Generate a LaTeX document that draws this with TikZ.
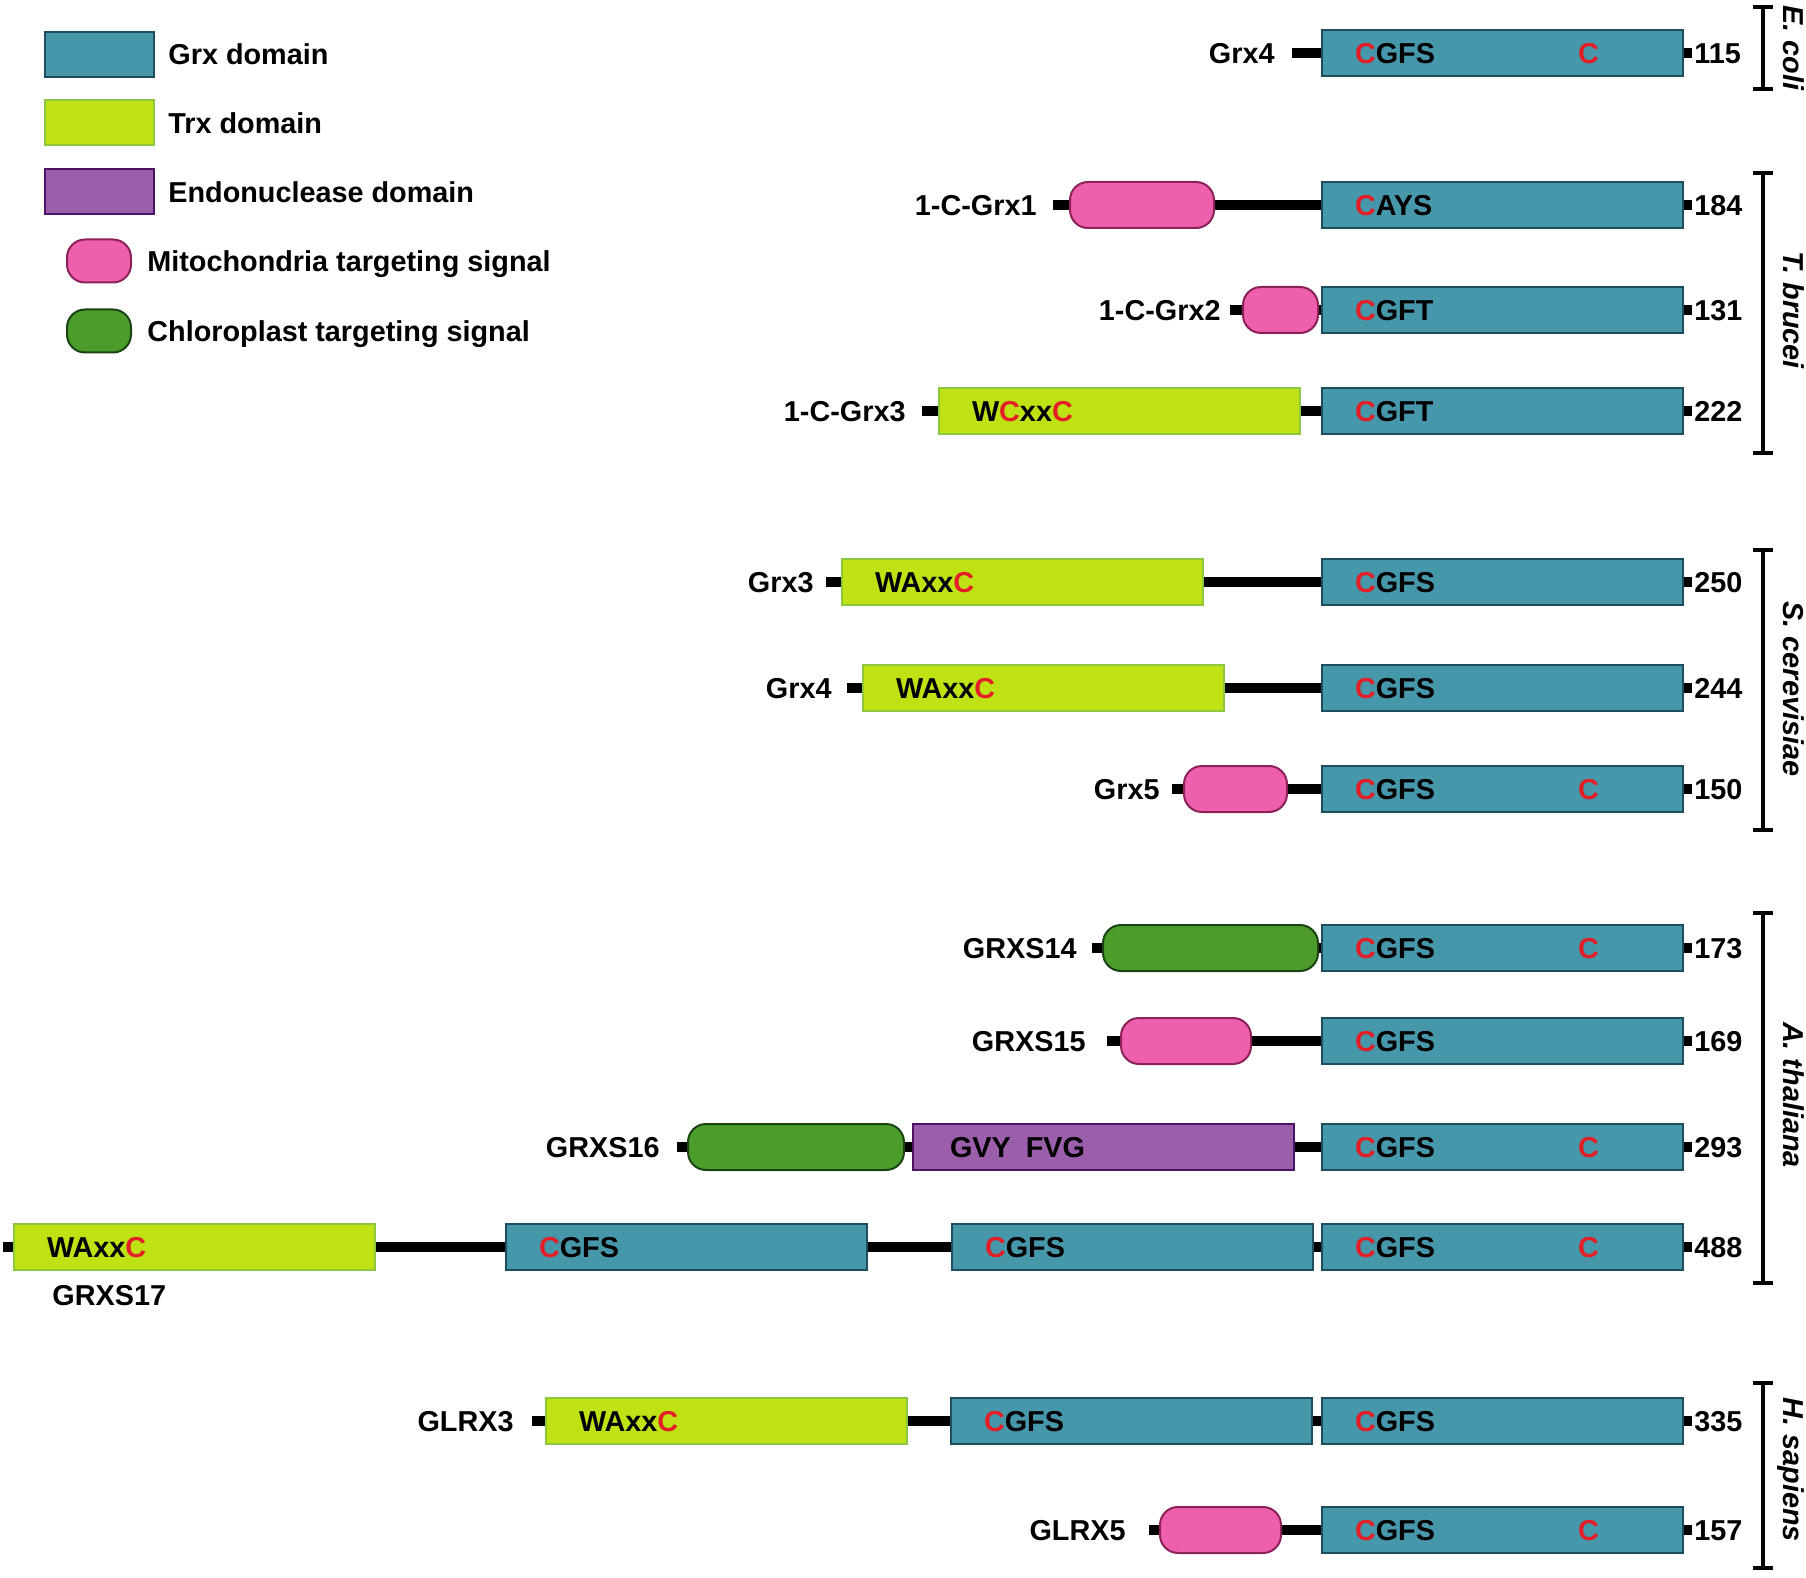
\documentclass[tikz,border=0pt]{standalone}
\usepackage{fontspec}
\setmainfont{Liberation Sans}
\usetikzlibrary{backgrounds}
\definecolor{grxf}{HTML}{4797AB}
\definecolor{grxb}{HTML}{1D4E5E}
\definecolor{trxf}{HTML}{BFE215}
\definecolor{trxb}{HTML}{8DC63F}
\definecolor{endof}{HTML}{9B5EAB}
\definecolor{endob}{HTML}{4B1467}
\definecolor{mitof}{HTML}{EE5FAD}
\definecolor{mitob}{HTML}{8C2257}
\definecolor{chlof}{HTML}{4C9C2C}
\definecolor{chlob}{HTML}{1A4513}
\definecolor{redc}{HTML}{E41E26}
\newcommand\dfont{\fontsize{14.4}{17}\selectfont\bfseries}
\newcommand\rc{\textcolor{redc}{C}}
\newcommand\cgfsc{\makebox[111.5pt][l]{\rc GFS}\rc}
\begin{document}
\begin{tikzpicture}[x=0.5pt,y=-0.5pt,
 dom/.style={draw, line width=1pt, minimum height=23pt, inner xsep=16.5pt, inner ysep=0pt, anchor=west, text width=147.5pt, align=left, text height=10.3pt, text depth=0pt, font=\dfont},
 grx/.style={dom, draw=grxb, fill=grxf},
 trx/.style={dom, draw=trxb, fill=trxf},
 endo/.style={dom, draw=endob, fill=endof, inner xsep=18.5pt, text width=153.5pt},
 pill/.style={draw, line width=1pt, rounded corners=9pt, minimum height=23pt, inner sep=0pt, anchor=west},
 mito/.style={pill, draw=mitob, fill=mitof},
 chlo/.style={pill, draw=chlob, fill=chlof},
 legbox/.style={draw, line width=1pt, minimum width=54.5pt, minimum height=22.5pt, inner sep=0pt, anchor=west},
 lnk/.style={line width=5pt},
 lbl/.style={font=\dfont, anchor=east, inner sep=0pt, text height=10.3pt, text depth=0pt},
 txt/.style={font=\dfont, anchor=west, inner sep=0pt, text height=10.3pt, text depth=0pt},
 brk/.style={line width=1.6pt},
 spec/.style={font=\fontsize{14.4}{17}\selectfont\bfseries\itshape, rotate=-90, anchor=base, inner sep=0pt}
]
\useasboundingbox (0,0) rectangle (1806,1578);
% legend
\node[legbox, draw=grxb, fill=grxf] (lg1) at (44,54.5) {};
\node[txt] (lt1) at (168,54.5) {Grx domain};
\node[legbox, draw=trxb, fill=trxf] (lg2) at (44,123) {};
\node[txt] (lt2) at (168,123) {Trx domain};
\node[legbox, draw=endob, fill=endof] (lg3) at (44,192) {};
\node[txt] (lt3) at (168,192) {Endonuclease domain};
\node[mito, minimum width=32pt, minimum height=21.5pt] (lg4) at (66,261) {};
\node[txt] (lt4) at (147,261) {Mitochondria targeting signal};
\node[chlo, minimum width=32pt, minimum height=21.5pt] (lg5) at (66,331) {};
\node[txt] (lt5) at (147,331) {Chloroplast targeting signal};

% Row 1 E. coli Grx4
\node[grx] (r1g) at (1321,53) {\cgfsc};
\node[lbl] (l1) at (1275,53) {Grx4};
\node[txt] (n1) at (1694,53) {115};
% Row 2
\node[mito, minimum width=72pt] (r2p) at (1069,205) {};
\node[grx] (r2g) at (1321,205) {\rc AYS};
\node[lbl] (l2) at (1037,205) {1-C-Grx1};
\node[txt] (n2) at (1694,205) {184};
% Row 3
\node[mito, minimum width=37.5pt] (r3p) at (1242,310) {};
\node[grx] (r3g) at (1321,310) {\rc GFT};
\node[lbl] (l3) at (1221,310) {1-C-Grx2};
\node[txt] (n3) at (1694,310) {131};
% Row 4
\node[trx] (r4t) at (938,411) {W\rc xx\rc};
\node[grx] (r4g) at (1321,411) {\rc GFT};
\node[lbl] (l4) at (906,411) {1-C-Grx3};
\node[txt] (n4) at (1694,411) {222};
% Row 5
\node[trx] (r5t) at (841,582) {WAxx\rc};
\node[grx] (r5g) at (1321,582) {\rc GFS};
\node[lbl] (l5) at (814,582) {Grx3};
\node[txt] (n5) at (1694,582) {250};
% Row 6
\node[trx] (r6t) at (862,688) {WAxx\rc};
\node[grx] (r6g) at (1321,688) {\rc GFS};
\node[lbl] (l6) at (832,688) {Grx4};
\node[txt] (n6) at (1694,688) {244};
% Row 7
\node[mito, minimum width=51.5pt] (r7p) at (1183,789) {};
\node[grx] (r7g) at (1321,789) {\cgfsc};
\node[lbl] (l7) at (1160,789) {Grx5};
\node[txt] (n7) at (1694,789) {150};
% Row 8
\node[chlo, minimum width=107.5pt] (r8p) at (1102,948) {};
\node[grx] (r8g) at (1321,948) {\cgfsc};
\node[lbl] (l8) at (1077,948) {GRXS14};
\node[txt] (n8) at (1694,948) {173};
% Row 9
\node[mito, minimum width=65pt] (r9p) at (1120,1041) {};
\node[grx] (r9g) at (1321,1041) {\rc GFS};
\node[lbl] (l9) at (1086,1041) {GRXS15};
\node[txt] (n9) at (1694,1041) {169};
% Row 10
\node[chlo, minimum width=108pt] (r10p) at (687,1147) {};
\node[endo] (r10e) at (912,1147) {GVY\hspace{7.5pt}FVG};
\node[grx] (r10g) at (1321,1147) {\cgfsc};
\node[lbl] (l10) at (660,1147) {GRXS16};
\node[txt] (n10) at (1694,1147) {293};
% Row 11
\node[trx] (r11t) at (13,1247) {WAxx\rc};
\node[grx] (r11a) at (505,1247) {\rc GFS};
\node[grx] (r11b) at (951,1247) {\rc GFS};
\node[grx] (r11g) at (1321,1247) {\cgfsc};
\node[txt] (l11) at (52,1295) {GRXS17};
\node[txt] (n11) at (1694,1247) {488};
% Row 12
\node[trx] (r12t) at (545,1421) {WAxx\rc};
\node[grx] (r12a) at (950,1421) {\rc GFS};
\node[grx] (r12g) at (1321,1421) {\rc GFS};
\node[lbl] (l12) at (514,1421) {GLRX3};
\node[txt] (n12) at (1694,1421) {335};
% Row 13
\node[mito, minimum width=60.5pt] (r13p) at (1159,1530) {};
\node[grx] (r13g) at (1321,1530) {\cgfsc};
\node[lbl] (l13) at (1126,1530) {GLRX5};
\node[txt] (n13) at (1694,1530) {157};

\begin{scope}[on background layer]
 \draw[lnk] (r1g.west) -- ++(-29,0);
 \draw[lnk] (r2p.west) -- ++(-16,0);
 \draw[lnk] (r2p.east) -- (r2g.west);
 \draw[lnk] (r3p.west) -- ++(-12,0);
 \draw[lnk] (r3p.east) -- (r3g.west);
 \draw[lnk] (r4t.west) -- ++(-16,0);
 \draw[lnk] (r4t.east) -- (r4g.west);
 \draw[lnk] (r5t.west) -- ++(-15,0);
 \draw[lnk] (r5t.east) -- (r5g.west);
 \draw[lnk] (r6t.west) -- ++(-15,0);
 \draw[lnk] (r6t.east) -- (r6g.west);
 \draw[lnk] (r7p.west) -- ++(-11,0);
 \draw[lnk] (r7p.east) -- (r7g.west);
 \draw[lnk] (r8p.west) -- ++(-10,0);
 \draw[lnk] (r8p.east) -- (r8g.west);
 \draw[lnk] (r9p.west) -- ++(-13,0);
 \draw[lnk] (r9p.east) -- (r9g.west);
 \draw[lnk] (r10p.west) -- ++(-10,0);
 \draw[lnk] (r10p.east) -- (r10e.west);
 \draw[lnk] (r10e.east) -- (r10g.west);
 \draw[lnk] (r11t.west) -- ++(-10,0);
 \draw[lnk] (r11t.east) -- (r11a.west);
 \draw[lnk] (r11a.east) -- (r11b.west);
 \draw[lnk] (r11b.east) -- (r11g.west);
 \draw[lnk] (r12t.west) -- ++(-13,0);
 \draw[lnk] (r12t.east) -- (r12a.west);
 \draw[lnk] (r12a.east) -- (r12g.west);
 \draw[lnk] (r13p.west) -- ++(-10,0);
 \draw[lnk] (r13p.east) -- (r13g.west);
 \foreach \g in {r1g,r2g,r3g,r4g,r5g,r6g,r7g,r8g,r9g,r10g,r11g,r12g,r13g}
   \draw[lnk] (\g.east) -- ++(8,0);
\end{scope}

% species brackets
\draw[brk] (1753,7) -- (1773,7) (1763,7) -- (1763,89) (1753,89) -- (1773,89);
\draw[brk] (1753,173) -- (1773,173) (1763,173) -- (1763,453) (1753,453) -- (1773,453);
\draw[brk] (1753,550) -- (1773,550) (1763,550) -- (1763,830) (1753,830) -- (1773,830);
\draw[brk] (1753,913) -- (1773,913) (1763,913) -- (1763,1283) (1753,1283) -- (1773,1283);
\draw[brk] (1753,1383) -- (1773,1383) (1763,1383) -- (1763,1568) (1753,1568) -- (1773,1568);
\node[spec] (s1) at (1783,48) {E. coli};
\node[spec] (s2) at (1783,310) {T. brucei};
\node[spec] (s3) at (1783,689) {S. cerevisiae};
\node[spec] (s4) at (1783,1095) {A. thaliana};
\node[spec] (s5) at (1783,1470) {H. sapiens};
\end{tikzpicture}
\end{document}
